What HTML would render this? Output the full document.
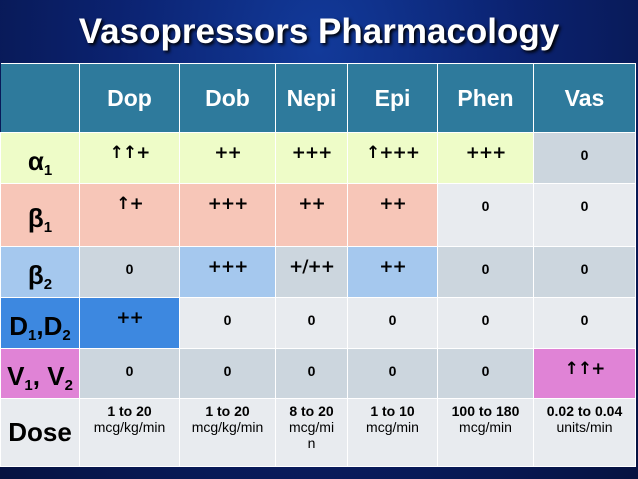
<!DOCTYPE html>
<html><head><style>
body{margin:0;width:638px;height:479px;overflow:hidden;background:radial-gradient(ellipse at 50% 10%,#123a9a 0%,#0b2270 45%,#061240 100%);font-family:"Liberation Sans",sans-serif;position:relative}
h1{position:absolute;left:0;width:638px;top:12px;margin:0;text-align:center;color:#fff;font-size:35px;font-weight:bold;text-shadow:2px 2px 3px #000}
table{position:absolute;left:0;top:63px;border-collapse:collapse;table-layout:fixed}
td{border:1.5px solid #fff;text-align:center;vertical-align:top;font-weight:bold;font-size:14px;padding:0;color:#000}
tr.h td{background:#2e7a9c;color:#fff;font-size:23px;vertical-align:middle;height:68px}
td.l{font-size:26px;vertical-align:middle;padding-top:8px}
td.v{padding-top:14px}
td.v.x{padding-top:10px;font-family:"DejaVu Sans",sans-serif;font-size:17px;font-weight:900;letter-spacing:-1px}
.y{background:#eefcc8}.s{background:#f7c6b8}.g{background:#ccd6de}.w{background:#e8ebef}.b{background:#a5c8ee}.d{background:#3d88e0}.p{background:#e083d6}
.n{font-weight:normal;font-size:14px}
sub{font-size:15px;vertical-align:-5px}
</style></head><body>
<h1>Vasopressors Pharmacology</h1>
<table>
<colgroup><col style="width:79px"><col style="width:100px"><col style="width:96px"><col style="width:72px"><col style="width:90px"><col style="width:96px"><col style="width:102px"></colgroup>
<tr class="h"><td style="border-left:none"></td><td>Dop</td><td>Dob</td><td>Nepi</td><td>Epi</td><td>Phen</td><td>Vas</td></tr>
<tr style="height:51px"><td class="l y">α<sub>1</sub></td><td class="v x y">↑↑+</td><td class="v x y">++</td><td class="v x y">+++</td><td class="v x y">↑+++</td><td class="v x y">+++</td><td class="v g">0</td></tr>
<tr style="height:63px"><td class="l s">β<sub>1</sub></td><td class="v x s">↑+</td><td class="v x s">+++</td><td class="v x s">++</td><td class="v x s">++</td><td class="v w">0</td><td class="v w">0</td></tr>
<tr style="height:51px"><td class="l b">β<sub>2</sub></td><td class="v g">0</td><td class="v x b">+++</td><td class="v x g">+/++</td><td class="v x b">++</td><td class="v g">0</td><td class="v g">0</td></tr>
<tr style="height:51px"><td class="l d">D<sub>1</sub>,D<sub>2</sub></td><td class="v x d">++</td><td class="v w">0</td><td class="v w">0</td><td class="v w">0</td><td class="v w">0</td><td class="v w">0</td></tr>
<tr style="height:50px"><td class="l p">V<sub>1</sub>, V<sub>2</sub></td><td class="v g">0</td><td class="v g">0</td><td class="v g">0</td><td class="v g">0</td><td class="v g">0</td><td class="v x p">↑↑+</td></tr>
<tr style="height:68px"><td class="l w" style="padding-top:0">Dose</td><td class="w" style="padding-top:4px">1 to 20<br><span class="n">mcg/kg/min</span></td><td class="w" style="padding-top:4px">1 to 20<br><span class="n">mcg/kg/min</span></td><td class="w" style="padding-top:4px">8 to 20<br><span class="n">mcg/mi<br>n</span></td><td class="w" style="padding-top:4px">1 to 10<br><span class="n">mcg/min</span></td><td class="w" style="padding-top:4px">100 to 180<br><span class="n">mcg/min</span></td><td class="w" style="padding-top:4px">0.02 to 0.04<br><span class="n">units/min</span></td></tr>
</table>
</body></html>
